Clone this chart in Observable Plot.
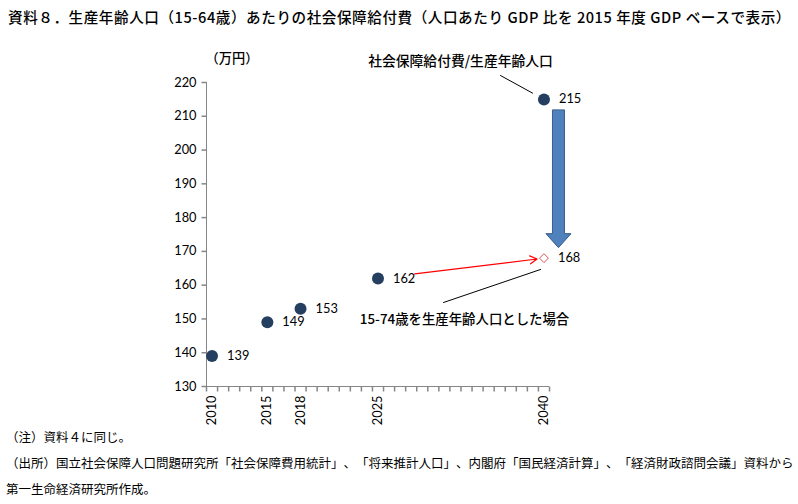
<!DOCTYPE html>
<html>
<head>
<meta charset="utf-8">
<script src="https://cdn.jsdelivr.net/npm/d3@7"></script>
<script src="https://cdn.jsdelivr.net/npm/@observablehq/plot@0.6"></script>
<style>
  html, body { margin: 0; padding: 0; background: #fff; }
  * { text-spacing-trim: space-all; }
  body { width: 798px; height: 504px; position: relative; overflow: hidden; font-family: "Noto Sans CJK JP", sans-serif; }
  #title { position: absolute; top: 6px; left: 8px; font-size: 14.6px; letter-spacing: 0.55px; white-space: nowrap; color: #000; font-weight: 500; }
  #chart { position: absolute; top: 30px; left: 0; }
  #foot { position: absolute; top: 424px; left: 6px; font-size: 12.5px; line-height: 26px; color: #000; white-space: nowrap; }
  #chart text { text-spacing-trim: space-all; }
</style>
</head>
<body>
<div id="title"></div>
<div id="chart"></div>
<div id="foot"></div>
<script>
// ---- data ----
const titleText = "資料８．生産年齢人口（15-64歳）あたりの社会保障給付費（人口あたり GDP 比を 2015 年度 GDP ベースで表示）";
const years = [2010, 2015, 2018, 2025, 2040];
const values = [139, 149, 153, 162, 215];
const altYears = [2040];
const altValues = [168];
const yTicks = [130, 140, 150, 160, 170, 180, 190, 200, 210, 220];
const xTickLabels = ["2010", "2015", "2018", "2025", "2040"];
const yUnit = "（万円）";
const annoMain = "社会保障給付費/生産年齢人口";
const annoAlt = "15-74歳を生産年齢人口とした場合";
const footLines = [
  "（注）資料４に同じ。",
  "（出所）国立社会保障人口問題研究所「社会保障費用統計」、「将来推計人口」、内閣府「国民経済計算」、「経済財政諮問会議」資料から",
  "第一生命経済研究所作成。"
];

document.getElementById("title").textContent = titleText;
document.getElementById("foot").innerHTML = footLines.map(s => `<div>${s}</div>`).join("");

const xMin = 2009.5, xMax = 2040.5, yMin = 130, yMax = 220;
const axisColor = "#868686";
const points = years.map((x, i) => ({x, y: values[i], label: String(values[i])}));
const altPoints = altYears.map((x, i) => ({x, y: altValues[i], label: String(altValues[i])}));
const xTickPos = d3.range(xMin, xMax + 0.01, 1);

const tickDown = {draw(ctx) { ctx.moveTo(0, 0); ctx.lineTo(0, 5); }};
const tickLeft = {draw(ctx) { ctx.moveTo(0, 0); ctx.lineTo(-5, 0); }};

// block arrow from the 2040 value down to the alternative value
const blockArrow = (index, scales) => {
  const x = scales.x(years[4]) + 15;
  const yTop = scales.y(values[4]) + 11;
  const yTip = scales.y(altValues[0]) - 10;
  const headH = 14, headW = 12.5, shaftW = 6;
  const p = d3.path();
  p.moveTo(x - shaftW, yTop);
  p.lineTo(x + shaftW, yTop);
  p.lineTo(x + shaftW, yTip - headH);
  p.lineTo(x + headW, yTip - headH);
  p.lineTo(x, yTip);
  p.lineTo(x - headW, yTip - headH);
  p.lineTo(x - shaftW, yTip - headH);
  p.closePath();
  const g = d3.create("svg:g");
  g.append("path").attr("d", p.toString()).attr("fill", "#4F81BD").attr("stroke", "#385D8A").attr("stroke-width", 1);
  return g.node();
};

const chart = Plot.plot({
  width: 798,
  height: 400,
  marginTop: 52,
  marginBottom: 44,
  marginLeft: 206,
  marginRight: 249,
  x: {domain: [xMin, xMax], axis: null},
  y: {domain: [yMin, yMax], axis: null},
  style: {background: "transparent", overflow: "visible", fontFamily: "Lato, 'Noto Sans CJK JP', sans-serif"},
  marks: [
    // axes
    Plot.ruleX([xMin], {y1: yMin, y2: yMax, stroke: axisColor}),
    Plot.ruleY([yMin], {x1: xMin, x2: xMax, stroke: axisColor}),
    Plot.dot(yTicks, {x: xMin, y: d => d, symbol: tickLeft, stroke: axisColor, fill: "none"}),
    Plot.dot(xTickPos, {x: d => d, y: yMin, symbol: tickDown, stroke: axisColor, fill: "none"}),
    Plot.text(yTicks, {x: xMin, y: d => d, text: d => String(d), textAnchor: "end", dx: -10, fontSize: 12.8, fill: "#000"}),
    Plot.text(years, {x: d => d, y: yMin, text: (d, i) => xTickLabels[i], rotate: -90, textAnchor: "end", dy: 9, fontSize: 12.8, fill: "#000"}),
    Plot.text([yUnit], {x: 2011.8, y: 227.1, text: d => d, fontSize: 13.2, fontWeight: 500, fontFamily: "'Noto Sans CJK JP'", fill: "#000"}),
    // annotations
    Plot.arrow([{}], {x1: 2036.07, y1: 222.07, x2: years[4], y2: values[4], insetEnd: 13, headLength: 0, stroke: "#000", strokeWidth: 1}),
    Plot.arrow([{}], {x1: 2030.92, y1: 154.87, x2: 2039.69, y2: 164.64, headLength: 0, stroke: "#000", strokeWidth: 1}),
    Plot.arrow([{}], {x1: years[3], y1: values[3], x2: altYears[0], y2: altValues[0], insetStart: 37, insetEnd: 7, headLength: 10, stroke: "#FF0000", strokeWidth: 1.2}),
    blockArrow,
    Plot.text([annoMain], {x: 2032.46, y: 226.2, text: d => d, fontSize: 13.8, fontWeight: 500, fontFamily: "'Noto Sans CJK JP'", fill: "#000"}),
    Plot.text([annoAlt], {x: 2032.82, y: 149.84, text: d => d, fontSize: 13.4, fontWeight: 500, fontFamily: "'Noto Sans CJK JP'", fill: "#000"}),
    // data
    Plot.dot(points, {x: "x", y: "y", r: 6, fill: "#243F60", stroke: "none"}),
    Plot.dot(altPoints, {x: "x", y: "y", r: 4, symbol: "diamond2", stroke: "#E0524F", fill: "none", strokeWidth: 1}),
    Plot.text(points, {x: "x", y: "y", text: "label", textAnchor: "start", dx: 15, fontSize: 12.8, fill: "#000"}),
    Plot.text(altPoints, {x: "x", y: "y", text: "label", textAnchor: "start", dx: 14, fontSize: 12.8, fill: "#000"})
  ]
});
document.getElementById("chart").appendChild(chart);
</script>
</body>
</html>
